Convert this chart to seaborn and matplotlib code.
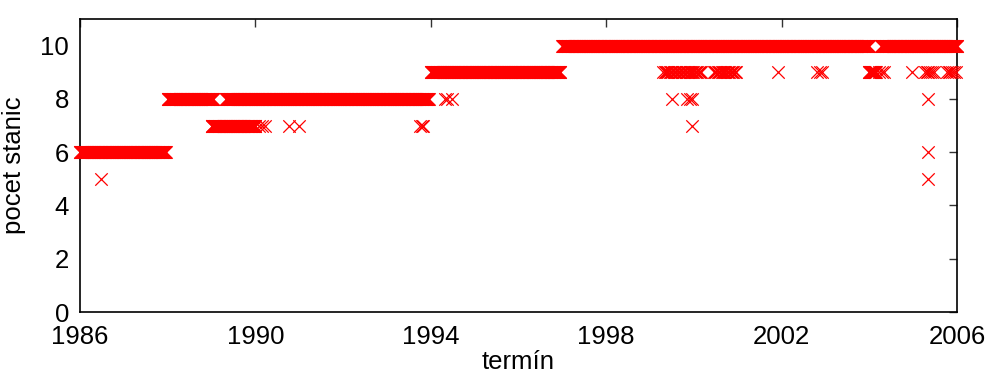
import numpy as np
import pandas as pd
import matplotlib
matplotlib.use("Agg")
import matplotlib.pyplot as plt
import seaborn as sns

# Runs of constant station counts (start year, end year, count)
run_start = [1986.00, 1988.00, 1989.33, 1989.00, 1994.00, 1997.00, 2004.27,
             1999.30, 2000.45, 2003.99, 2005.27, 2005.77]
run_end   = [1987.95, 1989.04, 1993.95, 1990.00, 1996.95, 2003.99, 2006.00,
             2000.18, 2000.98, 2004.15, 2005.50, 2006.00]
run_value = [6, 8, 8, 7, 9, 10, 10,
             9, 9, 9, 9, 9]
run_step  = [0.01, 0.01, 0.01, 0.01, 0.01, 0.01, 0.01,
             0.03, 0.03, 0.01, 0.04, 0.04]

# Isolated observations
iso_x = [1986.47,
         1990.08, 1990.15, 1990.22, 1990.77, 1990.99,
         1993.76, 1993.79, 1993.82,
         1994.33, 1994.37, 1994.49,
         1999.50, 1999.84, 1999.91, 1999.96,
         1999.96,
         2001.92, 2002.80, 2002.87, 2002.93,
         2004.22, 2004.28, 2004.33,
         2004.97,
         2005.34, 2005.34, 2005.34]
iso_y = [5,
         7, 7, 7, 7, 7,
         7, 7, 7,
         8, 8, 8,
         8, 8, 8, 8,
         7,
         9, 9, 9, 9,
         9, 9, 9,
         9,
         8, 6, 5]

x_ticks = [1986, 1990, 1994, 1998, 2002, 2006]
y_ticks = [0, 2, 4, 6, 8, 10]

xs, ys = [], []
for s, e, v, st in zip(run_start, run_end, run_value, run_step):
    t = np.arange(s, e + 1e-9, st)
    xs.extend(t)
    ys.extend([v] * len(t))
xs.extend(iso_x)
ys.extend(iso_y)
df = pd.DataFrame({"termin": xs, "pocet": ys})

sns.set_theme(style="white")
plt.rcParams["font.family"] = ["Liberation Sans", "DejaVu Sans"]

fig = plt.figure(figsize=(9.89, 3.74), dpi=100)
ax = fig.add_axes([80 / 989, 1 - 312 / 374, (957 - 80) / 989, (312 - 19) / 374])

sns.scatterplot(data=df, x="termin", y="pocet", ax=ax, marker="x", color="#ff0000",
                s=80, linewidth=0.9, clip_on=False, legend=False, zorder=3)

ax.set_xlim(1986, 2006)
ax.set_ylim(0, 11)
ax.set_xticks(x_ticks)
ax.set_yticks(y_ticks)
ax.set_xticklabels([str(t) for t in x_ticks])
ax.set_yticklabels([str(t) for t in y_ticks])
ax.tick_params(direction="in", length=6, width=1.0, color="#333333",
               top=True, right=True, labelsize=18.5, labelcolor="black")
ax.tick_params(axis="x", pad=9)
ax.tick_params(axis="y", pad=8)
for sp in ax.spines.values():
    sp.set_visible(True)
    sp.set_color("black")
    sp.set_linewidth(1.2)
ax.set_xlabel("termín", fontsize=18.5, color="black", labelpad=1)
ax.set_ylabel("pocet stanic", fontsize=18.5, color="black", labelpad=10)
ax.grid(False)

fig.savefig("out.png", dpi=100, facecolor="white")
